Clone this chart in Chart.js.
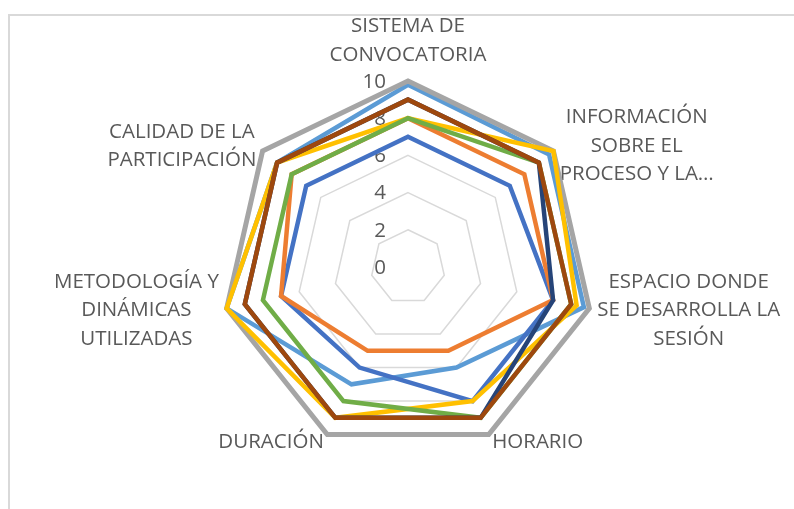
<!DOCTYPE html>
<html>
<head>
<meta charset="utf-8">
<script src="https://cdn.jsdelivr.net/npm/chart.js@4.4.0/dist/chart.umd.min.js"></script>
<style>
    html, body { margin: 0; padding: 0; background: #fff; }
    #wrap { position: relative; width: 794px; height: 509px; overflow: hidden; }
    #frame { position: absolute; left: 8px; top: 14px; width: 900px; height: 600px;
             border-left: 2px solid #d9d9d9; border-top: 2px solid #d9d9d9; }
    #chart { position: absolute; left: 0; top: 0; }
</style>
</head>
<body>
<div id="wrap">
    <div id="frame"></div>
    <canvas id="chart" width="794" height="509"></canvas>
</div>
<script>
// Ejes del radar (una línea de texto por elemento)
var categories = [
    ['SISTEMA DE', 'CONVOCATORIA'],
    ['INFORMACIÓN', 'SOBRE EL', 'PROCESO Y LA…'],
    ['ESPACIO DONDE', 'SE DESARROLLA LA', 'SESIÓN'],
    ['HORARIO'],
    ['DURACIÓN'],
    ['METODOLOGÍA Y', 'DINÁMICAS', 'UTILIZADAS'],
    ['CALIDAD DE LA', 'PARTICIPACIÓN']
];

var tickValues = [0, 2, 4, 6, 8, 10];

// Valores por serie
var serie1 = [7, 7, 8, 8, 6, 7, 7];
var serie2 = [8, 8, 8, 5, 5, 7, 8];
var serie3 = [10, 10, 10, 10, 10, 10, 10];
var serie4 = [8, 10, 9.3, 8, 9, 10, 9];
var serie5 = [9.8, 9.7, 9.7, 6, 7, 10, 9];
var serie6 = [8, 9, 9, 9, 8, 8, 8];
var serie7 = [9, 9, 8, 9, 9, 9, 9];
var serie8 = [9, 9, 9, 9, 9, 9, 9];

var seriesNames = ['Serie1', 'Serie2', 'Serie3', 'Serie4', 'Serie5', 'Serie6', 'Serie7', 'Serie8'];

var colors = ['#4472C4', '#ED7D31', '#A5A5A5', '#FFC000', '#5B9BD5', '#70AD47', '#264478', '#9E480E'];
// mayor número = se dibuja antes (queda debajo)
var drawOrder = [8, 7, 6, 5, 9, 3, 2, 1];

var textColor = '#595959';
var labelFont = '20.5px "Open Sans"';
var lineH = 28.5;

var allSeries = [serie1, serie2, serie3, serie4, serie5, serie6, serie7, serie8];

var datasets = allSeries.map(function (data, i) {
    return {
        label: seriesNames[i],
        data: data,
        borderColor: colors[i],
        backgroundColor: colors[i],
        borderWidth: i === 2 ? 5 : 4.5,
        borderJoinStyle: 'miter',
        pointRadius: 0,
        pointHoverRadius: 0,
        fill: false,
        order: drawOrder[i]
    };
});

// Etiquetas de eje al estilo Excel (bloques centrados)
var excelLabels = {
    id: 'excelLabels',
    beforeDatasetsDraw: function (chart) {
        var scale = chart.scales.r;
        var ctx = chart.ctx;
        ctx.save();
        ctx.fillStyle = textColor;
        ctx.font = labelFont;
        ctx.textBaseline = 'middle';

        // números del eje radial, a la izquierda del eje vertical
        ctx.textAlign = 'right';
        tickValues.forEach(function (v) {
            var d = scale.getDistanceFromCenterForValue(v);
            ctx.fillText(String(v), scale.xCenter - 22, scale.yCenter - d + 1);
        });

        // nombres de categoría
        ctx.textAlign = 'center';
        categories.forEach(function (lines, i) {
            var p = scale.getPointPosition(i, scale.drawingArea + 8);
            var ang = scale.getIndexAngle(i);
            var ux = Math.sin(ang);
            var uy = -Math.cos(ang);
            var w = 0;
            lines.forEach(function (t) { w = Math.max(w, ctx.measureText(t).width); });
            var h = lines.length * lineH;
            var cx = p.x, cy = p.y;
            if (ux > 0.1) cx = p.x + w / 2;
            else if (ux < -0.1) cx = p.x - w / 2;
            if (Math.abs(ux) <= 0.1 && uy < 0) cy = p.y - 4 - h / 2;
            lines.forEach(function (t, j) {
                ctx.fillText(t, cx, cy - h / 2 + lineH * (j + 0.5));
            });
        });
        ctx.restore();
    }
};

new Chart(document.getElementById('chart'), {
    type: 'radar',
    data: { labels: categories.map(function (l) { return l.join(' '); }), datasets: datasets },
    plugins: [excelLabels],
    options: {
        responsive: false,
        animation: false,
        layout: { padding: { left: 222, right: 200, top: 81, bottom: 56 } },
        plugins: {
            legend: { display: false },
            tooltip: { enabled: false }
        },
        elements: { line: { tension: 0 } },
        scales: {
            r: {
                min: 0,
                max: 10,
                ticks: { stepSize: 2, display: false },
                pointLabels: { display: false },
                angleLines: { display: false },
                grid: { color: '#d9d9d9', lineWidth: 1.5 }
            }
        }
    }
});
</script>
</body>
</html>
